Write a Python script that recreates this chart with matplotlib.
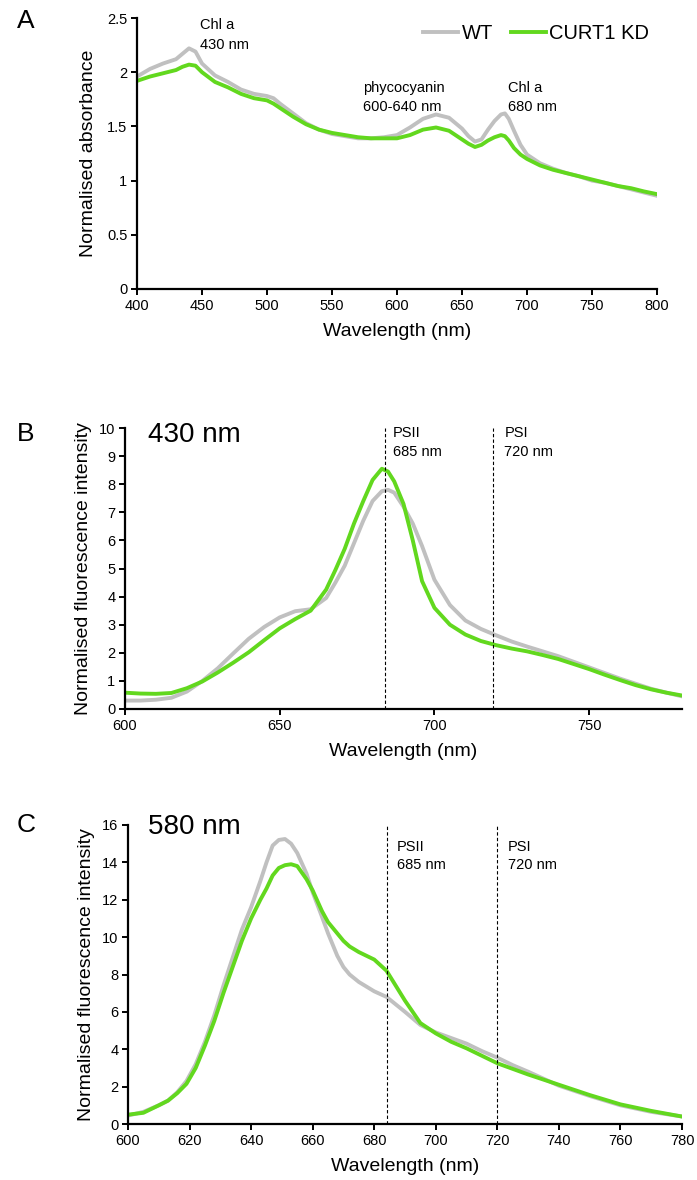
import matplotlib.pyplot as plt
import matplotlib.ticker as mticker

plt.rcParams['font.family'] = ['Liberation Sans', 'DejaVu Sans']

grey = '#C0C0C0'
green = '#62D81E'

# A: absorbance
abs_wl = [400, 410, 420, 430, 435, 440, 445, 450, 460, 470, 480, 490, 500, 505, 510, 520, 530, 540,
          550, 560, 570, 580, 590, 600, 610, 620, 630, 640, 650, 655, 660, 665, 670, 675, 680, 683,
          686, 690, 695, 700, 710, 720, 730, 740, 750, 760, 770, 780, 790, 800]
abs_wt = [1.96, 2.03, 2.08, 2.12, 2.17, 2.22, 2.19, 2.08, 1.97, 1.91, 1.84, 1.80, 1.78, 1.76, 1.71,
          1.62, 1.53, 1.47, 1.43, 1.41, 1.39, 1.39, 1.40, 1.42, 1.49, 1.57, 1.61, 1.58, 1.48, 1.41,
          1.36, 1.38, 1.47, 1.55, 1.61, 1.62, 1.57, 1.46, 1.33, 1.24, 1.16, 1.11, 1.07, 1.04, 1.00,
          0.98, 0.95, 0.92, 0.89, 0.86]
abs_kd = [1.92, 1.96, 1.99, 2.02, 2.05, 2.07, 2.06, 2.00, 1.91, 1.86, 1.80, 1.76, 1.74, 1.71, 1.67,
          1.59, 1.52, 1.47, 1.44, 1.42, 1.40, 1.39, 1.39, 1.39, 1.42, 1.47, 1.49, 1.46, 1.38, 1.34,
          1.31, 1.33, 1.37, 1.40, 1.42, 1.41, 1.37, 1.30, 1.24, 1.20, 1.14, 1.10, 1.07, 1.04, 1.01,
          0.98, 0.95, 0.93, 0.90, 0.875]

# B: fluorescence, 430 nm excitation
b_wl = [600, 605, 610, 615, 620, 625, 630, 635, 640, 645, 650, 655, 660, 665, 668, 671, 674, 677,
        680, 683, 685, 687, 690, 693, 696, 700, 705, 710, 715, 720, 725, 730, 735, 740, 745, 750,
        755, 760, 765, 770, 775, 780]
b_wt = [0.30, 0.30, 0.33, 0.40, 0.62, 1.00, 1.45, 1.98, 2.50, 2.92, 3.26, 3.48, 3.55, 3.95, 4.50,
        5.10, 5.90, 6.70, 7.40, 7.75, 7.80, 7.70, 7.20, 6.60, 5.80, 4.60, 3.70, 3.15, 2.85, 2.62,
        2.40, 2.22, 2.05, 1.88, 1.68, 1.48, 1.28, 1.08, 0.90, 0.72, 0.58, 0.45]
b_kd = [0.58, 0.55, 0.54, 0.57, 0.74, 0.98, 1.30, 1.65, 2.02, 2.45, 2.87, 3.20, 3.50, 4.25, 4.95,
        5.70, 6.60, 7.40, 8.15, 8.55, 8.45, 8.10, 7.30, 6.00, 4.55, 3.60, 3.00, 2.65, 2.42, 2.27,
        2.15, 2.05, 1.92, 1.78, 1.60, 1.42, 1.22, 1.03, 0.85, 0.70, 0.58, 0.48]

# C: fluorescence, 580 nm excitation
c_wl = [600, 605, 610, 613, 616, 619, 622, 625, 628, 631, 634, 637, 640, 643, 645, 647, 649, 651,
        653, 655, 658, 660, 663, 665, 668, 670, 672, 675, 680, 684, 687, 690, 695, 700, 705, 710,
        715, 720, 725, 730, 740, 750, 760, 770, 780]
c_wt = [0.45, 0.65, 1.0, 1.25, 1.7, 2.3, 3.2, 4.4, 5.8, 7.4, 8.9, 10.4, 11.6, 13.0, 14.0, 14.9,
        15.2, 15.25, 15.0, 14.5, 13.4, 12.4, 11.1, 10.2, 9.0, 8.4, 8.0, 7.6, 7.1, 6.8, 6.4, 6.0,
        5.3, 4.9, 4.6, 4.3, 3.9, 3.55, 3.15, 2.8, 2.05, 1.5, 1.0, 0.65, 0.4]
c_kd = [0.5, 0.6, 1.0, 1.25, 1.65, 2.15, 3.0, 4.2, 5.5, 7.0, 8.4, 9.8, 11.0, 12.0, 12.6, 13.3,
        13.7, 13.85, 13.9, 13.8, 13.1, 12.5, 11.4, 10.8, 10.2, 9.8, 9.5, 9.2, 8.8, 8.2, 7.4, 6.6,
        5.4, 4.85, 4.4, 4.05, 3.65, 3.25, 2.95, 2.65, 2.1, 1.55, 1.05, 0.7, 0.4]


def style(ax):
    for s in ['top', 'right']:
        ax.spines[s].set_visible(False)
    for s in ['left', 'bottom']:
        ax.spines[s].set_linewidth(1.6)
    ax.tick_params(direction='out', length=4, width=1.4, labelsize=10.5, pad=3)


def gfmt(v, pos):
    return ('%g' % v)


fig = plt.figure(figsize=(6.97, 11.8), dpi=100)

# Panel A
axA = fig.add_axes([137/697, 1 - 289/1180, 520/697, 271/1180])
axA.plot(abs_wl, abs_wt, color=grey, lw=2.8, label='WT')
axA.plot(abs_wl, abs_kd, color=green, lw=2.8, label='CURT1 KD')
axA.set_xlim(400, 800)
axA.set_ylim(0, 2.5)
axA.xaxis.set_major_locator(mticker.MultipleLocator(50))
axA.yaxis.set_major_locator(mticker.MultipleLocator(0.5))
axA.yaxis.set_major_formatter(mticker.FuncFormatter(gfmt))
style(axA)
axA.set_xlabel('Wavelength (nm)', fontsize=14)
axA.set_ylabel('Normalised absorbance', fontsize=14)
axA.xaxis.set_label_coords(0.5, -0.125)
axA.yaxis.set_label_coords(-0.077, 0.5)
axA.legend(loc='upper right', bbox_to_anchor=(1.02, 1.045), frameon=False, ncol=2, fontsize=14.5,
           handlelength=1.75, handletextpad=0.15, columnspacing=0.9)
axA.text(448.5, 2.435, 'Chl a', fontsize=10.5, va='center')
axA.text(448.5, 2.25, '430 nm', fontsize=10.5, va='center')
axA.text(573.8, 1.854, 'phycocyanin', fontsize=10.5, va='center')
axA.text(573.8, 1.679, '600-640 nm', fontsize=10.5, va='center')
axA.text(685.4, 1.854, 'Chl a', fontsize=10.5, va='center')
axA.text(685.4, 1.679, '680 nm', fontsize=10.5, va='center')

# Panel B
axB = fig.add_axes([125/697, 1 - 709/1180, 557/697, 281/1180])
axB.plot(b_wl, b_wt, color=grey, lw=2.8)
axB.plot(b_wl, b_kd, color=green, lw=2.8)
axB.set_xlim(600, 780)
axB.set_ylim(0, 10)
axB.xaxis.set_major_locator(mticker.MultipleLocator(50))
axB.yaxis.set_major_locator(mticker.MultipleLocator(1))
style(axB)
for x in [684, 719]:
    axB.axvline(x, color='black', lw=0.8, ls=(0, (3, 2)))
axB.set_xlabel('Wavelength (nm)', fontsize=14)
axB.set_ylabel('Normalised fluorescence intensity', fontsize=14)
axB.xaxis.set_label_coords(0.5, -0.121)
axB.yaxis.set_label_coords(-0.059, 0.5)
axB.text(607.4, 9.75, '430 nm', fontsize=20, va='center')
axB.text(686.5, 9.82, 'PSII', fontsize=10.5, va='center')
axB.text(686.5, 9.15, '685 nm', fontsize=10.5, va='center')
axB.text(722.6, 9.82, 'PSI', fontsize=10.5, va='center')
axB.text(722.6, 9.15, '720 nm', fontsize=10.5, va='center')

# Panel C
axC = fig.add_axes([128/697, 56/1180, 554/697, 299/1180])
axC.plot(c_wl, c_wt, color=grey, lw=2.8)
axC.plot(c_wl, c_kd, color=green, lw=2.8)
axC.set_xlim(600, 780)
axC.set_ylim(0, 16)
axC.xaxis.set_major_locator(mticker.MultipleLocator(20))
axC.yaxis.set_major_locator(mticker.MultipleLocator(2))
style(axC)
for x in [684, 720]:
    axC.axvline(x, color='black', lw=0.8, ls=(0, (3, 2)))
axC.set_xlabel('Wavelength (nm)', fontsize=14)
axC.set_ylabel('Normalised fluorescence intensity', fontsize=14)
axC.xaxis.set_label_coords(0.5, -0.114)
axC.yaxis.set_label_coords(-0.060, 0.5)
axC.text(606.5, 15.9, '580 nm', fontsize=20, va='center')
axC.text(687.4, 14.82, 'PSII', fontsize=10.5, va='center')
axC.text(687.4, 13.86, '685 nm', fontsize=10.5, va='center')
axC.text(723.5, 14.82, 'PSI', fontsize=10.5, va='center')
axC.text(723.5, 13.86, '720 nm', fontsize=10.5, va='center')

# panel letters
fig.text(26/697, 1 - 21/1180, 'A', fontsize=19, ha='center', va='center')
fig.text(26/697, 1 - 434/1180, 'B', fontsize=19, ha='center', va='center')
fig.text(26/697, 1 - 825/1180, 'C', fontsize=19, ha='center', va='center')

fig.savefig('out.png', dpi=100)
